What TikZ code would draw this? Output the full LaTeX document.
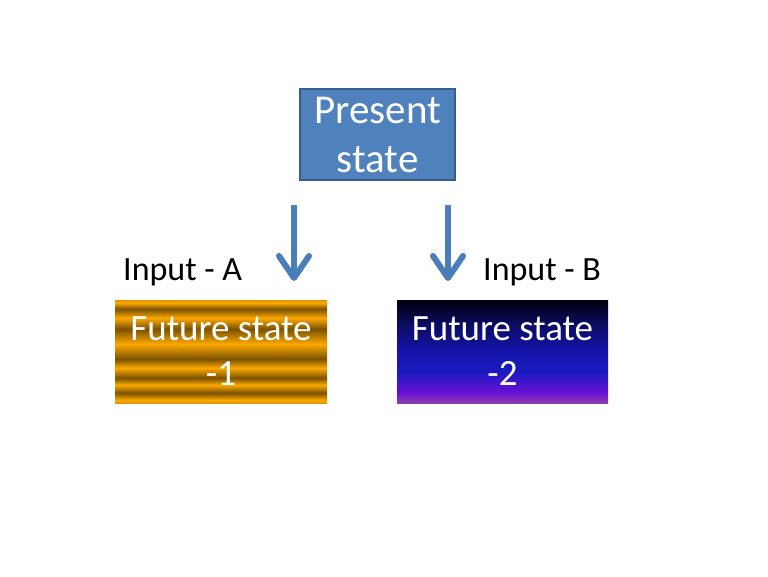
\documentclass[tikz,border=0pt]{standalone}
\usepackage{fontspec}
\setmainfont{Carlito}
\usetikzlibrary{arrows.meta}
\definecolor{ofblue}{HTML}{4F81BD}
\definecolor{ofborder}{HTML}{385D8A}
\definecolor{arrblue}{HTML}{4A7EBB}
\definecolor{orng}{HTML}{FCA800}
\definecolor{drk}{HTML}{7A5200}
\definecolor{obot}{HTML}{E09600}
\definecolor{nA}{HTML}{00000E}
\definecolor{nB}{HTML}{0C0C64}
\definecolor{nC}{HTML}{1414A8}
\definecolor{nD}{HTML}{1A1AC0}
\definecolor{nE}{HTML}{6A10D4}
\definecolor{nF}{HTML}{8A40A8}
\pgfdeclareverticalshading{orngstripes}{100bp}{
  color(0bp)=(obot); color(25bp)=(obot);
  color(26.456bp)=(orng); color(29.854bp)=(drk);
  color(33.738bp)=(orng); color(37.136bp)=(drk);
  color(41.990bp)=(orng); color(46.359bp)=(drk);
  color(53.641bp)=(orng); color(60.923bp)=(drk);
  color(66.262bp)=(orng); color(70.631bp)=(drk);
  color(73.544bp)=(orng); color(75bp)=(obot); color(100bp)=(obot)}
\pgfdeclareverticalshading{midnight}{100bp}{
  color(0bp)=(nF); color(25bp)=(nF);
  color(29.854bp)=(nE); color(40.049bp)=(nD);
  color(50.728bp)=(nC); color(62.864bp)=(nB);
  color(75bp)=(nA); color(100bp)=(nA)}
\tikzset{
  statebox/.style={rectangle, inner sep=0pt, align=center, text=white},
  inlabel/.style={anchor=base west, inner sep=0pt, font=\fontsize{34}{40}\selectfont},
  flowarrow/.style={draw=arrblue, line width=6pt, -{Straight Barb[length=22pt,width=30pt,line width=6pt,round]}},
}
\begin{document}
\begin{tikzpicture}[x=1pt,y=-1pt]
\useasboundingbox (0,0) rectangle (768,576);
\fill[white] (0,0) rectangle (768,576);
% present state
\node[statebox, draw=ofborder, line width=1.5pt, fill=ofblue,
      minimum width=155pt, minimum height=91pt,
      font=\fontsize{41}{49}\selectfont] (present) at (377.5,134.5) {Present\\state};
% future states
\node[statebox, shading=orngstripes, minimum width=212pt, minimum height=103pt,
      font=\fontsize{37}{45}\selectfont] (fut1) at (221,351.5) {Future state\\-1};
\node[statebox, shading=midnight, minimum width=211pt, minimum height=103pt,
      font=\fontsize{37}{45}\selectfont] (fut2) at (502.5,351.5) {Future state\\-2};
% labels
\node[inlabel] (inA) at (123,280) {Input - A};
\node[inlabel] (inB) at (483,280) {Input - B};
% arrows
\coordinate (a1s) at (294,205);
\coordinate (a1e) at (294,281);
\coordinate (a2s) at (448,205);
\coordinate (a2e) at (448,281);
\draw[flowarrow] (a1s) -- (a1e);
\draw[flowarrow] (a2s) -- (a2e);
\end{tikzpicture}
\end{document}
